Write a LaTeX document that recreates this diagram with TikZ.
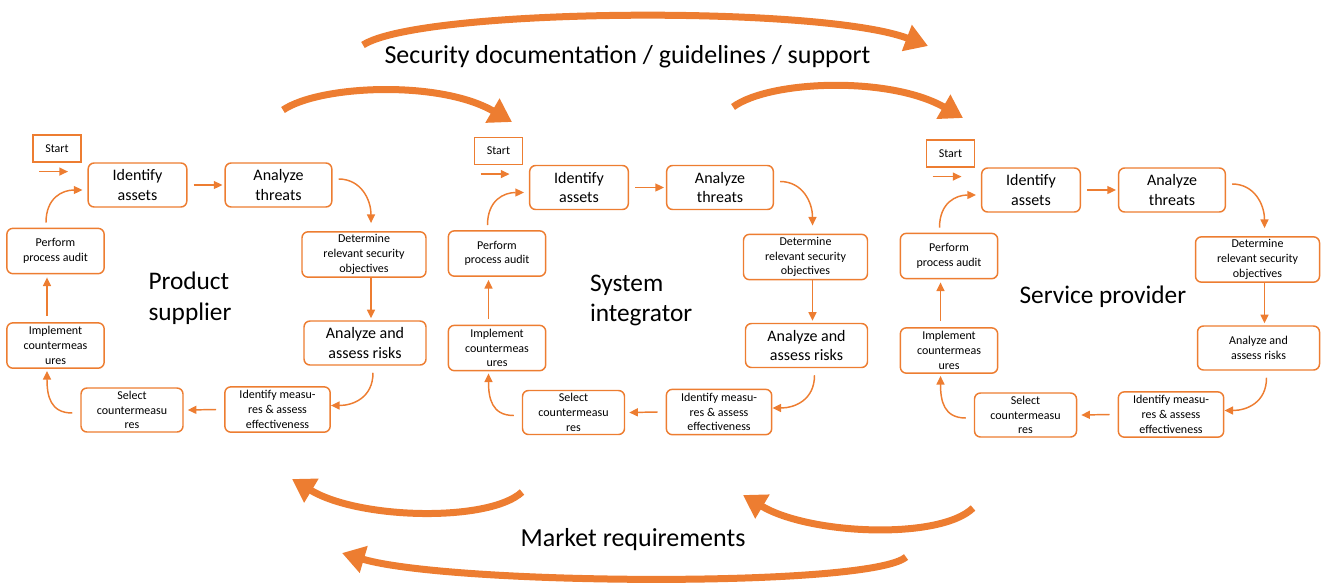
\documentclass[tikz,border=0pt]{standalone}
\usepackage{fontspec}
\setmainfont{Carlito}
\usetikzlibrary{arrows.meta,calc}
\definecolor{accent}{RGB}{237,125,49}

\tikzset{every picture/.style={line width=0.75pt}}
\tikzset{
  stepbig/.style={draw=accent, line width=1.1pt, rounded corners=4.5pt, fill=white, align=center, inner sep=0pt, font=\fontsize{12}{14.5}\selectfont},
  stepsmall/.style={draw=accent, line width=1.1pt, rounded corners=4.5pt, fill=white, align=center, inner sep=0pt, font=\fontsize{9}{11}\selectfont},
  startbox/.style={draw=accent, line width=1.1pt, minimum width=36pt, minimum height=20pt, inner sep=0pt, font=\fontsize{9}{11}\selectfont},
  flow/.style={draw=accent, line width=1.1pt, -{Triangle[width=6pt,length=6.5pt]}},
  bigflow/.style={draw=accent, line width=5.25pt, -{Triangle[width=20pt,length=17pt]}},
  actor/.style={align=left, inner sep=0pt, font=\fontsize{19}{23}\selectfont},
  banner/.style={inner sep=0pt, font=\fontsize{19.5}{23}\selectfont},
}

\begin{document}
\begin{tikzpicture}[x=0.75pt,y=0.75pt,yscale=-1,xscale=1]
\useasboundingbox (0,0) rectangle (1323,582);

%Curved Arrows top
\draw [bigflow] (363,45) .. controls (420,8) and (820,5) .. (928,46) ;
\draw [bigflow] (283,110) .. controls (320,85) and (440,80) .. (512,122) ;
\draw [bigflow] (733,107) .. controls (770,80) and (890,76) .. (963,118) ;
%Curved Arrows bottom
\draw [bigflow] (522,492) .. controls (490,522) and (360,520) .. (292,479) ;
\draw [bigflow] (973,508) .. controls (940,540) and (810,535) .. (743,495) ;
\draw [bigflow] (906,557) .. controls (870,588) and (450,585) .. (342,553) ;

% Text Node
\node [banner] (doc) at (627.5,57) {Security documentation / guidelines / support};
% Text Node
\node [banner] (market) at (633,540) {Market requirements};

%Product supplier
\begin{scope}
\node [startbox] (start1) at (57,148.5) {Start};
\node [stepbig, minimum width=74pt, minimum height=33pt] (ia1) at (137.5,185) {Identify\\assets};
\node [stepbig, minimum width=80pt, minimum height=33pt] (at1) at (278.5,185) {Analyze\\threats};
\node [stepsmall, minimum width=93pt, minimum height=34pt] (det1) at (364,254.5) {Determine\\relevant security\\objectives};
\node [stepbig, minimum width=91.5pt, minimum height=33pt] (aar1) at (365,343) {Analyze and\\assess risks};
\node [stepsmall, minimum width=79pt, minimum height=34pt] (idm1) at (277.5,409.5) {Identify measu-\\res \& assess\\effectiveness};
\node [stepsmall, minimum width=76.5pt, minimum height=33pt] (sel1) at (132,410) {Select\\countermeasu\\res};
\node [stepsmall, minimum width=73pt, minimum height=34pt] (imp1) at (55.5,345.5) {Implement\\countermeas\\ures};
\node [stepsmall, minimum width=73pt, minimum height=34pt] (per1) at (55.5,251) {Perform\\process audit};
\node [actor, anchor=west] (lbl1) at (148,298) {Product\\supplier};
\draw [flow] ($(start1.south)+(-18,9)$) -- ($(start1.south)+(11,9)$) ;
\draw [flow] ($(ia1.east)+(6,0)$) -- ($(at1.west)+(-2,0)$) ;
\draw [flow] ($(at1.east)+(6,-6)$) .. controls +(22,0) and +(0,-24) .. ($(det1.north)+(7,-8)$) ;
\draw [flow] ($(det1.south)+(7,0)$) -- ($(aar1.north)+(6,-2)$) ;
\draw [flow] ($(aar1.south)+(8,7)$) .. controls +(0,25) and +(22,0) .. ($(idm1.east)+(0,-4)$) ;
\draw [flow] ($(idm1.west)+(-8,0)$) -- ($(sel1.east)+(4,0)$) ;
\draw [flow] ($(sel1.west)+(-8,3)$) .. controls +(-22,0) and +(0,25) .. ($(imp1.south)+(-8.5,2)$) ;
\draw [flow] ($(imp1.north)+(-8.5,-6)$) -- ($(per1.south)+(-8.5,3)$) ;
\draw [flow] ($(per1.north)+(-9.5,-5)$) .. controls +(0,-25) and +(-20,0) .. ($(ia1.west)+(-5,5)$) ;
\end{scope}

%System integrator
\begin{scope}[shift={(441.5,2.5)}]
\node [startbox] (start2) at (57,148.5) {Start};
\node [stepbig, minimum width=74pt, minimum height=33pt] (ia2) at (137.5,185) {Identify\\assets};
\node [stepbig, minimum width=80pt, minimum height=33pt] (at2) at (278.5,185) {Analyze\\threats};
\node [stepsmall, minimum width=93pt, minimum height=34pt] (det2) at (364,254.5) {Determine\\relevant security\\objectives};
\node [stepbig, minimum width=91.5pt, minimum height=33pt] (aar2) at (365,343) {Analyze and\\assess risks};
\node [stepsmall, minimum width=79pt, minimum height=34pt] (idm2) at (277.5,409.5) {Identify measu-\\res \& assess\\effectiveness};
\node [stepsmall, minimum width=76.5pt, minimum height=33pt] (sel2) at (132,410) {Select\\countermeasu\\res};
\node [stepsmall, minimum width=73pt, minimum height=34pt] (imp2) at (55.5,345.5) {Implement\\countermeas\\ures};
\node [stepsmall, minimum width=73pt, minimum height=34pt] (per2) at (55.5,251) {Perform\\process audit};
\node [actor, anchor=west] (lbl2) at (148,298) {System\\integrator};
\draw [flow] ($(start2.south)+(-18,9)$) -- ($(start2.south)+(11,9)$) ;
\draw [flow] ($(ia2.east)+(6,0)$) -- ($(at2.west)+(-2,0)$) ;
\draw [flow] ($(at2.east)+(6,-6)$) .. controls +(22,0) and +(0,-24) .. ($(det2.north)+(7,-8)$) ;
\draw [flow] ($(det2.south)+(7,0)$) -- ($(aar2.north)+(6,-2)$) ;
\draw [flow] ($(aar2.south)+(8,7)$) .. controls +(0,25) and +(22,0) .. ($(idm2.east)+(0,-4)$) ;
\draw [flow] ($(idm2.west)+(-8,0)$) -- ($(sel2.east)+(4,0)$) ;
\draw [flow] ($(sel2.west)+(-8,3)$) .. controls +(-22,0) and +(0,25) .. ($(imp2.south)+(-8.5,2)$) ;
\draw [flow] ($(imp2.north)+(-8.5,-6)$) -- ($(per2.south)+(-8.5,3)$) ;
\draw [flow] ($(per2.north)+(-9.5,-5)$) .. controls +(0,-25) and +(-20,0) .. ($(ia2.west)+(-5,5)$) ;
\end{scope}

%Service provider
\begin{scope}[shift={(893.5,5)}]
\node [startbox] (start3) at (57,148.5) {Start};
\node [stepbig, minimum width=74pt, minimum height=33pt] (ia3) at (137.5,185) {Identify\\assets};
\node [stepbig, minimum width=80pt, minimum height=33pt] (at3) at (278.5,185) {Analyze\\threats};
\node [stepsmall, minimum width=93pt, minimum height=34pt] (det3) at (364,254.5) {Determine\\relevant security\\objectives};
\node [stepsmall, minimum width=91.5pt, minimum height=33pt] (aar3) at (365,343) {Analyze and\\assess risks};
\node [stepsmall, minimum width=79pt, minimum height=34pt] (idm3) at (277.5,409.5) {Identify measu-\\res \& assess\\effectiveness};
\node [stepsmall, minimum width=76.5pt, minimum height=33pt] (sel3) at (132,410) {Select\\countermeasu\\res};
\node [stepsmall, minimum width=73pt, minimum height=34pt] (imp3) at (55.5,345.5) {Implement\\countermeas\\ures};
\node [stepsmall, minimum width=73pt, minimum height=34pt] (per3) at (55.5,251) {Perform\\process audit};
\node [actor, anchor=west] (lbl3) at (125.5,292) {Service provider};
\draw [flow] ($(start3.south)+(-18,9)$) -- ($(start3.south)+(11,9)$) ;
\draw [flow] ($(ia3.east)+(6,0)$) -- ($(at3.west)+(-2,0)$) ;
\draw [flow] ($(at3.east)+(6,-6)$) .. controls +(22,0) and +(0,-24) .. ($(det3.north)+(7,-8)$) ;
\draw [flow] ($(det3.south)+(7,0)$) -- ($(aar3.north)+(6,-2)$) ;
\draw [flow] ($(aar3.south)+(8,7)$) .. controls +(0,25) and +(22,0) .. ($(idm3.east)+(0,-4)$) ;
\draw [flow] ($(idm3.west)+(-8,0)$) -- ($(sel3.east)+(4,0)$) ;
\draw [flow] ($(sel3.west)+(-8,3)$) .. controls +(-22,0) and +(0,25) .. ($(imp3.south)+(-8.5,2)$) ;
\draw [flow] ($(imp3.north)+(-8.5,-6)$) -- ($(per3.south)+(-8.5,3)$) ;
\draw [flow] ($(per3.north)+(-9.5,-5)$) .. controls +(0,-25) and +(-20,0) .. ($(ia3.west)+(-5,5)$) ;
\end{scope}

\end{tikzpicture}
\end{document}
